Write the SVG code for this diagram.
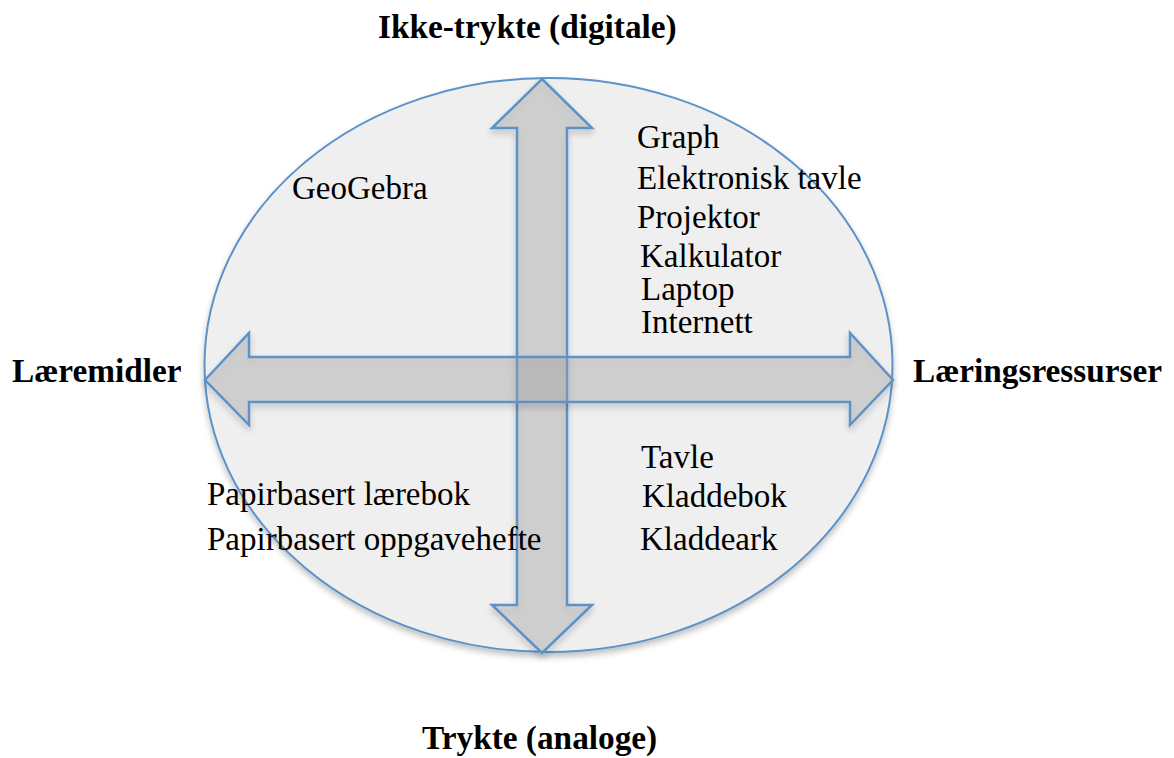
<svg xmlns="http://www.w3.org/2000/svg" width="1174" height="758" viewBox="0 0 1174 758">
<style>
.ax{font-family:"Liberation Serif","Times New Roman",serif;font-weight:bold;font-size:33.3px;fill:#000}
.tx{font-family:"Liberation Serif","Times New Roman",serif;font-size:33px;fill:#000}
.arr{fill:#a8a8a8;fill-opacity:0.35;stroke:#5b92c8;stroke-width:2.5;stroke-linejoin:miter}
</style>
<defs>
<filter id="sh" x="-10%" y="-10%" width="120%" height="125%">
<feGaussianBlur in="SourceAlpha" stdDeviation="3"/>
<feOffset dx="0" dy="4" result="b"/>
<feComponentTransfer><feFuncA type="linear" slope="0.25"/></feComponentTransfer>
<feMerge><feMergeNode/><feMergeNode in="SourceGraphic"/></feMerge>
</filter>
</defs>
<rect width="1174" height="758" fill="#fff"/>
<g id="ellipse">
<ellipse cx="548.5" cy="365" rx="344" ry="287" fill="#efefef" stroke="#5b92c8" stroke-width="2" filter="url(#sh)"/>
</g>
<g id="connectors">
<path class="arr" filter="url(#sh)" d="M542,79 L592,128 L567,128 L567,605 L592,605 L542,653 L492,605 L517,605 L517,128 L492,128 Z"/>
<path class="arr" filter="url(#sh)" d="M205,380 L249,333 L249,357 L850,357 L850,333 L893,380 L850,425 L850,402 L249,402 L249,425 Z"/>
</g>
<g id="axis-top"><text class="ax" x="378" y="38">Ikke-trykte (digitale)</text></g>
<g id="axis-bottom"><text class="ax" x="422" y="749">Trykte (analoge)</text></g>
<g id="axis-left"><text class="ax" x="12" y="382">Læremidler</text></g>
<g id="axis-right"><text class="ax" x="913" y="382">Læringsressurser</text></g>
<g id="q1">
<text class="tx" x="292" y="199">GeoGebra</text>
</g>
<g id="q2">
<text class="tx" x="637" y="148">Graph</text>
<text class="tx" x="637" y="189">Elektronisk tavle</text>
<text class="tx" x="637" y="228">Projektor</text>
<text class="tx" x="640" y="267">Kalkulator</text>
<text class="tx" x="641" y="300">Laptop</text>
<text class="tx" x="641" y="333">Internett</text>
</g>
<g id="q3">
<text class="tx" x="207" y="505">Papirbasert lærebok</text>
<text class="tx" x="207" y="550">Papirbasert oppgavehefte</text>
</g>
<g id="q4">
<text class="tx" x="641" y="468">Tavle</text>
<text class="tx" x="642" y="507">Kladdebok</text>
<text class="tx" x="640" y="550">Kladdeark</text>
</g>
</svg>
